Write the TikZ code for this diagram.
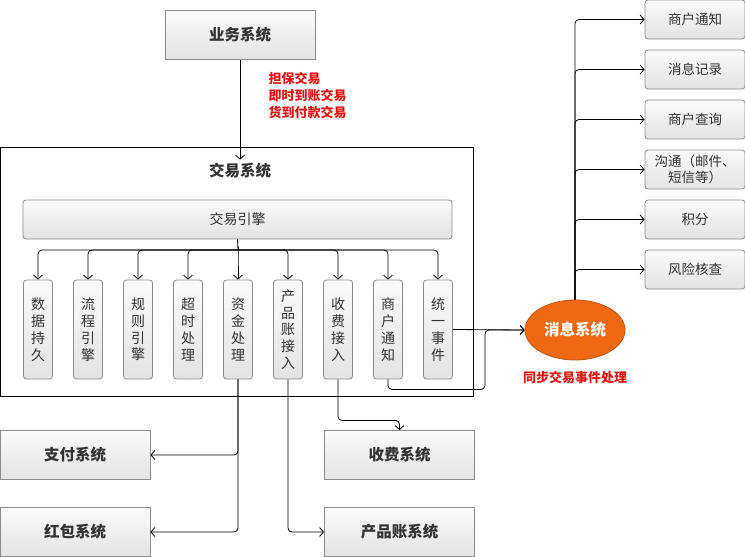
\documentclass[tikz,border=0pt]{standalone}
\usepackage{fontspec}
\setmainfont{Noto Sans CJK SC}
\usetikzlibrary{shapes.geometric, arrows.meta}
\definecolor{boxline}{RGB}{140,140,140}
\definecolor{msgorange}{RGB}{240,104,20}
\definecolor{notered}{RGB}{225,20,20}
\begin{document}
\begin{tikzpicture}[x=1pt, y=-1pt, line width=0.8pt, >={Straight Barb[length=4pt, width=9pt]},
    sysbox/.style={draw=boxline, top color=gray!4, bottom color=gray!22, minimum width=150pt, minimum height=49pt, font=\fontsize{15.5}{18}\selectfont\bfseries, text=black!80},
    modbox/.style={draw=boxline, rounded corners=3pt, top color=gray!4, bottom color=gray!22, minimum width=29pt, minimum height=99pt, inner sep=0pt, align=center, font=\fontsize{14}{16.8}\selectfont, text=black!80},
    subbox/.style={draw=boxline, rounded corners=3pt, top color=gray!4, bottom color=gray!22, minimum width=100pt, minimum height=39pt, inner sep=1pt, align=center, font=\fontsize{13.5}{15.5}\selectfont, text=black!80},
    note/.style={text=notered, font=\fontsize{13}{17}\selectfont\bfseries, align=left}]
\useasboundingbox (0,0) rectangle (745,557);

% outer systems
\node[sysbox] (biz) at (240,35) {业务系统};
\node[note, anchor=north west] (types) at (265,68) {担保交易\\即时到账交易\\货到付款交易};
\node[draw, minimum width=473pt, minimum height=249pt] (trade) at (236.5,271.5) {};
\node[font=\fontsize{15.5}{18}\selectfont\bfseries, text=black!80] (title) at (240,171) {交易系统};
\draw[->] (biz) -- (title);

% engine and modules
\node[modbox, minimum width=429pt, minimum height=39pt] (engine) at (237.5,219.5) {交易引擎};
\node[modbox] (m1) at (38,329.5) {数\\据\\持\\久};
\node[modbox] (m2) at (88,329.5) {流\\程\\引\\擎};
\node[modbox] (m3) at (138,329.5) {规\\则\\引\\擎};
\node[modbox] (m4) at (188,329.5) {超\\时\\处\\理};
\node[modbox] (m5) at (238,329.5) {资\\金\\处\\理};
\node[modbox] (m6) at (288,329.5) {产\\品\\账\\接\\入};
\node[modbox] (m7) at (338,329.5) {收\\费\\接\\入};
\node[modbox] (m8) at (388,329.5) {商\\户\\通\\知};
\node[modbox] (m9) at (438,329.5) {统\\一\\事\\件};
\coordinate (bus) at (238,250);
\draw (engine.south) -- (bus);
\foreach \i in {1,...,9}
    \draw[->, rounded corners=4pt] (bus) -| (m\i.north);

% message system
\node[ellipse, draw=msgorange!80!black, fill=msgorange, minimum width=100pt, minimum height=60pt, text=white, font=\fontsize{15.5}{18}\selectfont\bfseries] (msg) at (575,330) {消息系统};
\node[note] (sync) at (575,378) {同步交易事件处理};
\draw[->] (m9.east) -- (msg.west);
\draw[->, rounded corners=4pt] (m8.south) -- ++(0,10) -| (485,330) -- (msg.west);

\node[subbox] (r1) at (695,19.5) {商户通知};
\node[subbox] (r2) at (695,69.5) {消息记录};
\node[subbox] (r3) at (695,119.5) {商户查询};
\node[subbox] (r4) at (695,169.5) {沟通（邮件、\\短信等）};
\node[subbox] (r5) at (695,219.5) {积分};
\node[subbox] (r6) at (695,269.5) {风险核查};
\foreach \i in {1,...,6}
    \draw[->, rounded corners=4pt] (msg.north) |- (r\i.west);

% downstream systems
\node[sysbox] (pay) at (75,455) {支付系统};
\node[sysbox] (redpack) at (75,532) {红包系统};
\node[sysbox] (fee) at (399.5,455) {收费系统};
\node[sysbox] (prod) at (399.5,532) {产品账系统};
\draw[->, rounded corners=4pt] (m5.south) |- (pay.east);
\draw[->, rounded corners=4pt] (m5.south) |- (redpack.east);
\draw[->, rounded corners=4pt] (m6.south) |- (prod.west);
\draw[->, rounded corners=4pt] (m7.south) -- ++(0,41) -| (fee.north);
\end{tikzpicture}
\end{document}
